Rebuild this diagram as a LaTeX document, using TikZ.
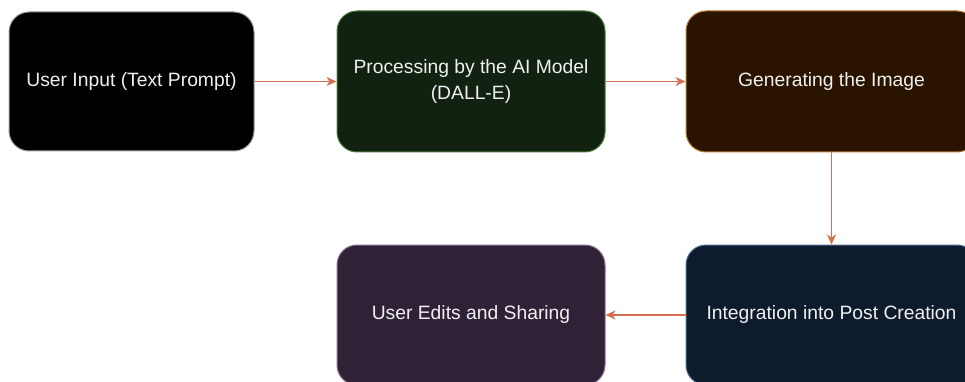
\documentclass[tikz,border=0pt]{standalone}
\usepackage{fontspec}
\setmainfont{Liberation Sans}
\usetikzlibrary{arrows.meta}
\definecolor{arrowred}{HTML}{D4704F}
\definecolor{boxgreen}{HTML}{112210}
\definecolor{edgegreen}{HTML}{4F7A3C}
\definecolor{boxbrown}{HTML}{2A1400}
\definecolor{edgebrown}{HTML}{B8782A}
\definecolor{boxpurple}{HTML}{302236}
\definecolor{edgepurple}{HTML}{8C6C94}
\definecolor{boxnavy}{HTML}{0E1B2C}
\definecolor{edgenavy}{HTML}{4C6D96}
\definecolor{edgegray}{HTML}{9A9A9A}
\begin{document}
\begin{tikzpicture}[x=1pt,y=-1pt,
	stage/.style={inner sep=0pt,
	rounded corners=20pt,
	line width=1pt,
	align=center,
	text=white!94!black,
	font=\fontsize{19.3}{26}\selectfont},
	flow/.style={-{Stealth[length=10pt,width=9pt,inset=3pt]},draw=arrowred,line width=1.2pt}]
	\useasboundingbox (0,0) rectangle (965,382);
	\node[stage,fill=black,draw=edgegray,
	minimum width=245pt,minimum height=139pt] (input) at (131.5,81.5) {User Input (Text Prompt)};
	\node[stage,fill=boxgreen,draw=edgegreen,
	minimum width=268pt,minimum height=141pt] (model) at (471,81.5) {Processing by the AI Model\\(DALL-E)};
	\node[stage,fill=boxbrown,draw=edgebrown,
	minimum width=291pt,minimum height=141pt] (generate) at (831.5,81.5) {Generating the Image};
	\node[stage,fill=boxpurple,draw=edgepurple,
	minimum width=268pt,minimum height=140pt] (share) at (471,315) {User Edits and Sharing};
	\node[stage,fill=boxnavy,draw=edgenavy,
	minimum width=291pt,minimum height=140pt] (post) at (831.5,315) {Integration into Post Creation};
	\draw[flow] (input) -- (model);
	\draw[flow] (model) -- (generate);
	\draw[flow] (generate) -- (post);
	\draw[flow] (post) -- (share);
\end{tikzpicture}
\end{document}
